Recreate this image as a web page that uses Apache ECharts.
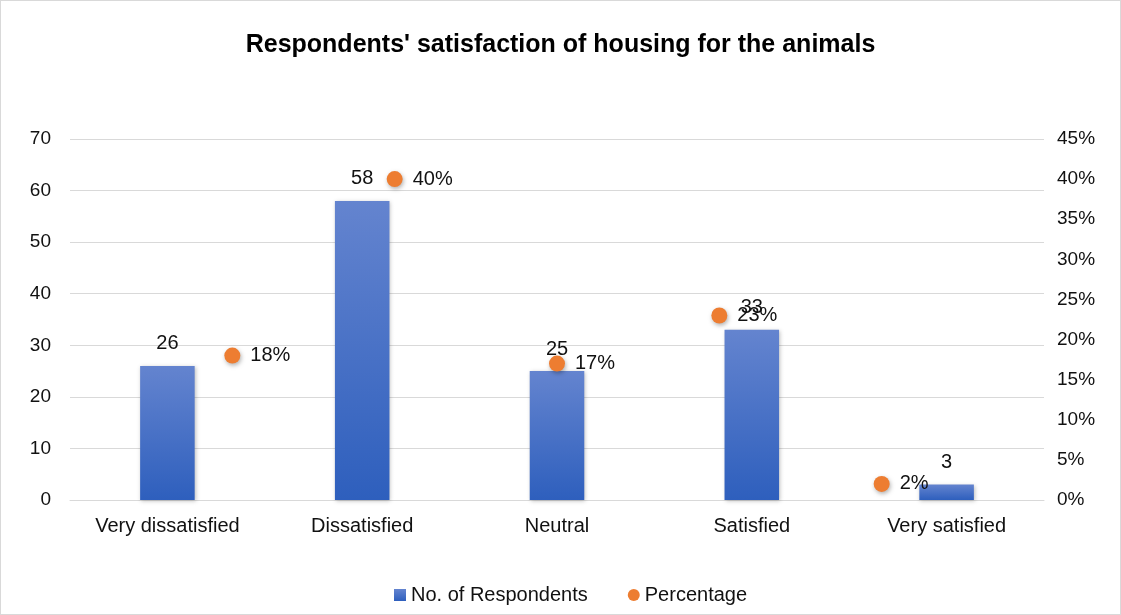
<!DOCTYPE html>
<html>
<head>
<meta charset="utf-8">
<script src="https://cdn.jsdelivr.net/npm/echarts@6/dist/echarts.min.js"></script>
<style>
  html, body { margin: 0; padding: 0; background: #fff; }
  #chart { width: 1121px; height: 615px; box-sizing: border-box; border: 1px solid #d9d9d9; }
</style>
</head>
<body>
<div id="chart"></div>
<script>
const categories = ['Very dissatisfied', 'Dissatisfied', 'Neutral', 'Satisfied', 'Very satisfied'];
const respondents = [26, 58, 25, 33, 3];
const percentages = [0.18, 0.40, 0.17, 0.23, 0.02];
// the percentage points sit on a hidden 0..6 value axis, like Excel's secondary x axis
const pointPositions = [1, 2, 3, 4, 5];

const FONT = '"Liberation Sans", Arial, sans-serif';
const TEXT = '#111';

const chart = echarts.init(document.getElementById('chart'));

chart.setOption({
  backgroundColor: '#fff',
  textStyle: { fontFamily: FONT },
  title: {
    text: "Respondents' satisfaction of housing for the animals",
    left: 'center',
    top: 27,
    textStyle: { fontFamily: FONT, fontSize: 25, fontWeight: 'bold', color: '#000' },
  },
  legend: {
    bottom: 4,
    left: 388,
    itemGap: 40,
    itemWidth: 12,
    itemHeight: 12,
    textStyle: { fontFamily: FONT, fontSize: 20, color: TEXT },
    data: [
      { name: 'No. of Respondents', icon: 'rect' },
      { name: 'Percentage', icon: 'circle' },
    ],
  },
  grid: { left: 69, right: 76, top: 138, bottom: 114 },
  xAxis: [
    {
      type: 'category',
      data: categories,
      axisLine: { show: true, lineStyle: { color: '#d9d9d9', width: 1 } },
      axisTick: { show: false },
      axisLabel: { fontFamily: FONT, fontSize: 20, color: TEXT, margin: 16 },
    },
    {
      type: 'value',
      min: 0,
      max: 6,
      show: false,
    },
  ],
  yAxis: [
    {
      type: 'value',
      min: 0,
      max: 70,
      interval: 10,
      axisLine: { show: false },
      axisTick: { show: false },
      axisLabel: { fontFamily: FONT, fontSize: 19, color: TEXT, margin: 19 },
      splitLine: { lineStyle: { color: '#d9d9d9', width: 1 } },
    },
    {
      type: 'value',
      min: 0,
      max: 0.45,
      interval: 0.05,
      axisLine: { show: false },
      axisTick: { show: false },
      splitLine: { show: false },
      axisLabel: {
        fontFamily: FONT, fontSize: 19, color: TEXT, margin: 13,
        formatter: v => Math.round(v * 100) + '%',
      },
    },
  ],
  series: [
    {
      name: 'No. of Respondents',
      type: 'bar',
      data: respondents,
      barWidth: '28%',
      itemStyle: {
        color: new echarts.graphic.LinearGradient(0, 0, 0, 1, [
          { offset: 0, color: '#6484cf' },
          { offset: 1, color: '#2e5fbd' },
        ]),
        shadowColor: 'rgba(0,0,0,0.25)',
        shadowBlur: 4,
        shadowOffsetX: 1,
        shadowOffsetY: 1,
      },
      label: {
        show: true,
        position: 'top',
        distance: 12,
        fontFamily: FONT,
        fontSize: 20,
        color: TEXT,
      },
      z: 2,
    },
    {
      name: 'Percentage',
      type: 'scatter',
      xAxisIndex: 1,
      yAxisIndex: 1,
      data: pointPositions.map((x, i) => [x, percentages[i]]),
      symbolSize: 16,
      itemStyle: {
        color: '#ed7d31',
        opacity: 1,
        shadowColor: 'rgba(0,0,0,0.3)',
        shadowBlur: 4,
        shadowOffsetX: 1,
        shadowOffsetY: 2,
      },
      label: {
        show: true,
        position: 'right',
        distance: 10,
        fontFamily: FONT,
        fontSize: 20,
        color: TEXT,
        formatter: p => Math.round(p.value[1] * 100) + '%',
      },
      z: 3,
    },
  ],
});
</script>
</body>
</html>
